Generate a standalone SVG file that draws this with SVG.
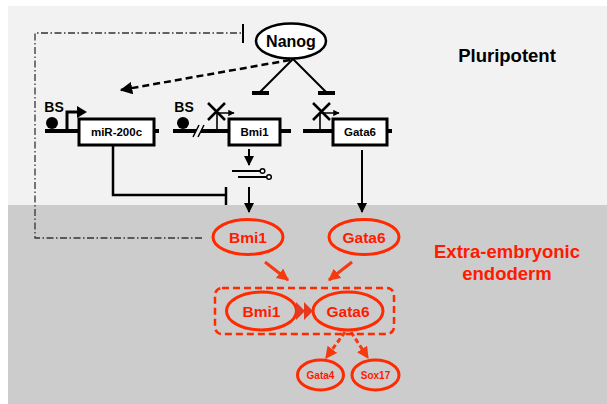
<svg xmlns="http://www.w3.org/2000/svg" width="607" height="404" viewBox="0 0 607 404">
  <defs>
    <style>
      text { font-family: "Liberation Sans", Arial, sans-serif; font-weight: bold; text-anchor: middle; }
      .blk { fill: #000; }
      .red { fill: #ff1a00; }
      .gene { fill: #fff; stroke: #000; stroke-width: 3; }
      .dna { stroke: #000; stroke-width: 4; fill: none; }
      .thin { stroke: #000; stroke-width: 1.6; fill: none; }
      .rel { fill: none; stroke: #ff2a00; stroke-width: 3; }
      .link { fill: none; stroke: #000; stroke-width: 2; }
      .rlink { fill: none; stroke: #f53a10; stroke-width: 3; }
    </style>
    <marker id="ah" viewBox="0 0 10 10" refX="9" refY="5" markerWidth="5" markerHeight="5" orient="auto" markerUnits="strokeWidth">
      <path d="M0,0 L10,5 L0,10 z" fill="#000"/>
    </marker>
    <marker id="ahs" viewBox="0 0 10 10" refX="9" refY="5" markerWidth="4" markerHeight="4" orient="auto" markerUnits="strokeWidth">
      <path d="M0,0 L10,5 L0,10 z" fill="#000"/>
    </marker>
    <marker id="rah" viewBox="0 0 10 10" refX="9" refY="5" markerWidth="4" markerHeight="4" orient="auto" markerUnits="strokeWidth">
      <path d="M0,0 L10,5 L0,10 z" fill="#f53a10"/>
    </marker>
  </defs>

  <!-- background bands -->
  <rect x="8" y="6" width="599" height="199" fill="#f2f2f2"/>
  <rect x="8" y="205" width="599" height="199" fill="#cccccc"/>

  <!-- region labels -->
  <text x="507" y="62" font-size="18.5" class="blk">Pluripotent</text>
  <text x="507" y="258" font-size="18.5" class="red">Extra-embryonic</text>
  <text x="507" y="280" font-size="18.5" class="red">endoderm</text>

  <g id="connectors">
    <!-- Nanog feedback inhibition (dash-dot) -->
    <path d="M202 238 H35 V33 H243" fill="none" stroke="#333" stroke-width="1.3" stroke-dasharray="7 2.5 1.5 2.5"/>
    <line x1="243" y1="24" x2="243" y2="43" stroke="#000" stroke-width="2"/>
    <!-- Nanog repression of Bmi1 and Gata6 -->
    <path d="M293 59 L260 92 M293 59 L326 92" class="link"/>
    <path d="M252 93 H269 M318 93 H335" stroke="#000" stroke-width="4"/>
    <!-- Nanog activates miR-200c (dashed) -->
    <line x1="290" y1="60" x2="121" y2="90" stroke="#000" stroke-width="2.5" stroke-dasharray="7 4" marker-end="url(#ah)"/>
    <!-- miR-200c inhibition of Bmi1 -->
    <path d="M113 145 V195 H226" fill="none" stroke="#000" stroke-width="2.5"/>
    <line x1="226" y1="187" x2="226" y2="205" stroke="#000" stroke-width="2.5"/>
    <!-- Bmi1 expression arrows -->
    <line x1="249" y1="149" x2="249" y2="165" class="link" stroke-width="1.8" marker-end="url(#ah)"/>
    <line x1="249" y1="187" x2="249" y2="212" class="link" stroke-width="1.8" marker-end="url(#ah)"/>
    <!-- Gata6 expression arrow -->
    <line x1="362" y1="150" x2="362" y2="212" class="link" stroke-width="1.8" marker-end="url(#ah)"/>
    <!-- red activation arrows -->
    <line x1="265" y1="262" x2="288" y2="280" class="rlink" marker-end="url(#rah)"/>
    <line x1="352" y1="262" x2="329" y2="280" class="rlink" marker-end="url(#rah)"/>
    <line x1="345" y1="332" x2="326" y2="358" class="rlink" stroke-dasharray="5 3" marker-end="url(#rah)"/>
    <line x1="351" y1="332" x2="368" y2="358" class="rlink" stroke-dasharray="5 3" marker-end="url(#rah)"/>
  </g>

  <g id="nanog">
    <ellipse cx="291" cy="41" rx="35" ry="17.5" fill="#fff" stroke="#000" stroke-width="2.5"/>
    <text x="291" y="47" font-size="16" class="blk">Nanog</text>
  </g>

  <g id="mir200c-gene">
    <path d="M45 131 H79 M154 131 H159" class="dna"/>
    <text x="54" y="112" font-size="14" class="blk">BS</text>
    <circle cx="52" cy="123" r="6" fill="#000"/>
    <path d="M67 131 V112 H78" fill="none" stroke="#000" stroke-width="3"/>
    <path d="M77 106 L87 112 L77 118 z" fill="#000"/>
    <rect x="79" y="119" width="75" height="26" class="gene"/>
    <text x="116.5" y="136" font-size="11.5" class="blk">miR-200c</text>
  </g>

  <g id="bmi1-gene">
    <path d="M173 131 H196 M201 131 H228 M280 131 H291" class="dna"/>
    <path d="M193 137 L199 125 M198 137 L204 125" stroke="#000" stroke-width="1.5"/>
    <text x="184" y="112" font-size="14" class="blk">BS</text>
    <circle cx="183" cy="123" r="6" fill="#000"/>
    <path d="M217 131 V113 H234" class="thin" marker-end="url(#ahs)"/>
    <path d="M208 103 L225 120 M225 103 L208 120" stroke="#000" stroke-width="2.5"/>
    <rect x="229" y="119" width="51" height="26" class="gene"/>
    <text x="254.5" y="136" font-size="11.5" class="blk">Bmi1</text>
  </g>

  <g id="mirna-duplex">
    <path d="M232 171 H260 M238 177 H266.5" stroke="#000" stroke-width="1.8"/>
    <circle cx="262.5" cy="171" r="2.3" fill="#fff" stroke="#000" stroke-width="1.5"/>
    <circle cx="269" cy="177" r="2.3" fill="#fff" stroke="#000" stroke-width="1.5"/>
  </g>

  <g id="gata6-gene">
    <path d="M303 131 H332 M387 131 H392" class="dna"/>
    <path d="M320 131 V113 H339" class="thin" marker-end="url(#ahs)"/>
    <path d="M313 103 L330 120 M330 103 L313 120" stroke="#000" stroke-width="2.5"/>
    <rect x="333" y="119" width="54" height="26" class="gene"/>
    <text x="360" y="136" font-size="11.5" class="blk">Gata6</text>
  </g>

  <g id="bmi1-protein">
    <ellipse cx="248" cy="237" rx="35" ry="17.5" class="rel"/>
    <text x="248" y="243" font-size="15.5" class="red">Bmi1</text>
  </g>

  <g id="gata6-protein">
    <ellipse cx="364" cy="237" rx="35" ry="17.5" class="rel"/>
    <text x="364" y="243" font-size="15.5" class="red">Gata6</text>
  </g>

  <g id="complex">
    <rect x="215" y="288" width="179" height="46" rx="7" fill="none" stroke="#ff2a00" stroke-width="2.5" stroke-dasharray="7 4"/>
    <ellipse cx="261.5" cy="311" rx="35" ry="19" class="rel"/>
    <text x="261.5" y="317" font-size="15.5" class="red">Bmi1</text>
    <ellipse cx="348" cy="311" rx="35" ry="19" class="rel"/>
    <text x="348" y="317" font-size="15.5" class="red">Gata6</text>
    <path d="M296 302 L305 311 L296 320 z M304 302 L313 311 L304 320 z" fill="#e53a20"/>
  </g>

  <g id="gata4">
    <ellipse cx="320.5" cy="375" rx="23" ry="15" class="rel"/>
    <text x="320.5" y="379" font-size="10" class="red">Gata4</text>
  </g>

  <g id="sox17">
    <ellipse cx="375.5" cy="375" rx="23.5" ry="15" class="rel"/>
    <text x="375.5" y="379" font-size="10" class="red">Sox17</text>
  </g>
</svg>
